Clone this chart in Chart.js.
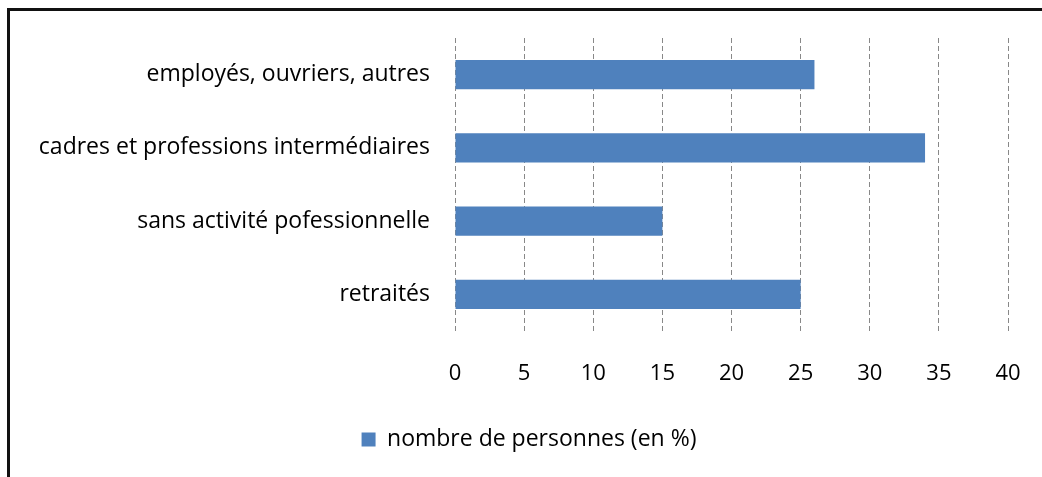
<!DOCTYPE html>
<html>
<head>
<meta charset="utf-8">
<script src="https://cdn.jsdelivr.net/npm/chart.js@4"></script>
<style>
  html, body { margin: 0; background: #fff; overflow: hidden; width: 1042px; height: 477px; }
  #frame { position: absolute; left: 7px; top: 8px; width: 1032px; height: 466px;
           border-left: 3px solid #111; border-top: 3px solid #111; }
  #wrap { position: absolute; left: 0; top: 0; width: 1042px; height: 477px; }
</style>
</head>
<body>
<div id="frame"></div>
<div id="wrap"><canvas id="chart"></canvas></div>
<script>
const categories = ['employés, ouvriers, autres', 'cadres et professions intermédiaires', 'sans activité pofessionnelle', 'retraités'];
const values = [26, 34, 15, 25];
const seriesName = 'nombre de personnes (en %)';

const fontFamily = '"Open Sans", sans-serif';

// move the legend a bit to the right, like the original
const legendShift = {
  id: 'legendShift',
  afterLayout(chart) {
    chart.legend.left += 25;
    chart.legend.right += 25;
  }
};

const config = {
  type: 'bar',
  data: {
    labels: categories,
    datasets: [{
      label: seriesName,
      data: values,
      backgroundColor: '#4f81bd',
      borderWidth: 0,
      categoryPercentage: 1,
      barPercentage: 0.4
    }]
  },
  options: {
    indexAxis: 'y',
    responsive: true,
    maintainAspectRatio: false,
    animation: false,
    layout: {
      padding: { top: 38, right: 34, left: 0, bottom: 16 }
    },
    plugins: {
      legend: {
        display: true,
        position: 'bottom',
        labels: {
          color: '#000',
          font: { family: fontFamily, size: 23 },
          boxWidth: 14,
          boxHeight: 14,
          padding: 10
        }
      },
      tooltip: { enabled: false }
    },
    scales: {
      x: {
        min: 0,
        max: 40,
        ticks: { stepSize: 5, color: '#000', padding: 30, font: { family: fontFamily, size: 22 } },
        grid: { color: '#888', drawTicks: false, lineWidth: 1 },
        border: { display: false, dash: [5, 3] },
        afterFit: function(scale) {
          scale.height = 87;
          scale.paddingRight = 0;
          scale.paddingLeft = 0;
        }
      },
      y: {
        ticks: { color: '#000', padding: 17, font: { family: fontFamily, size: 23 } },
        grid: { display: false },
        border: { display: false },
        afterFit: function(scale) { scale.width = 455; }
      }
    }
  },
  plugins: [legendShift]
};

const chart = new Chart(document.getElementById('chart'), config);
</script>
</body>
</html>
